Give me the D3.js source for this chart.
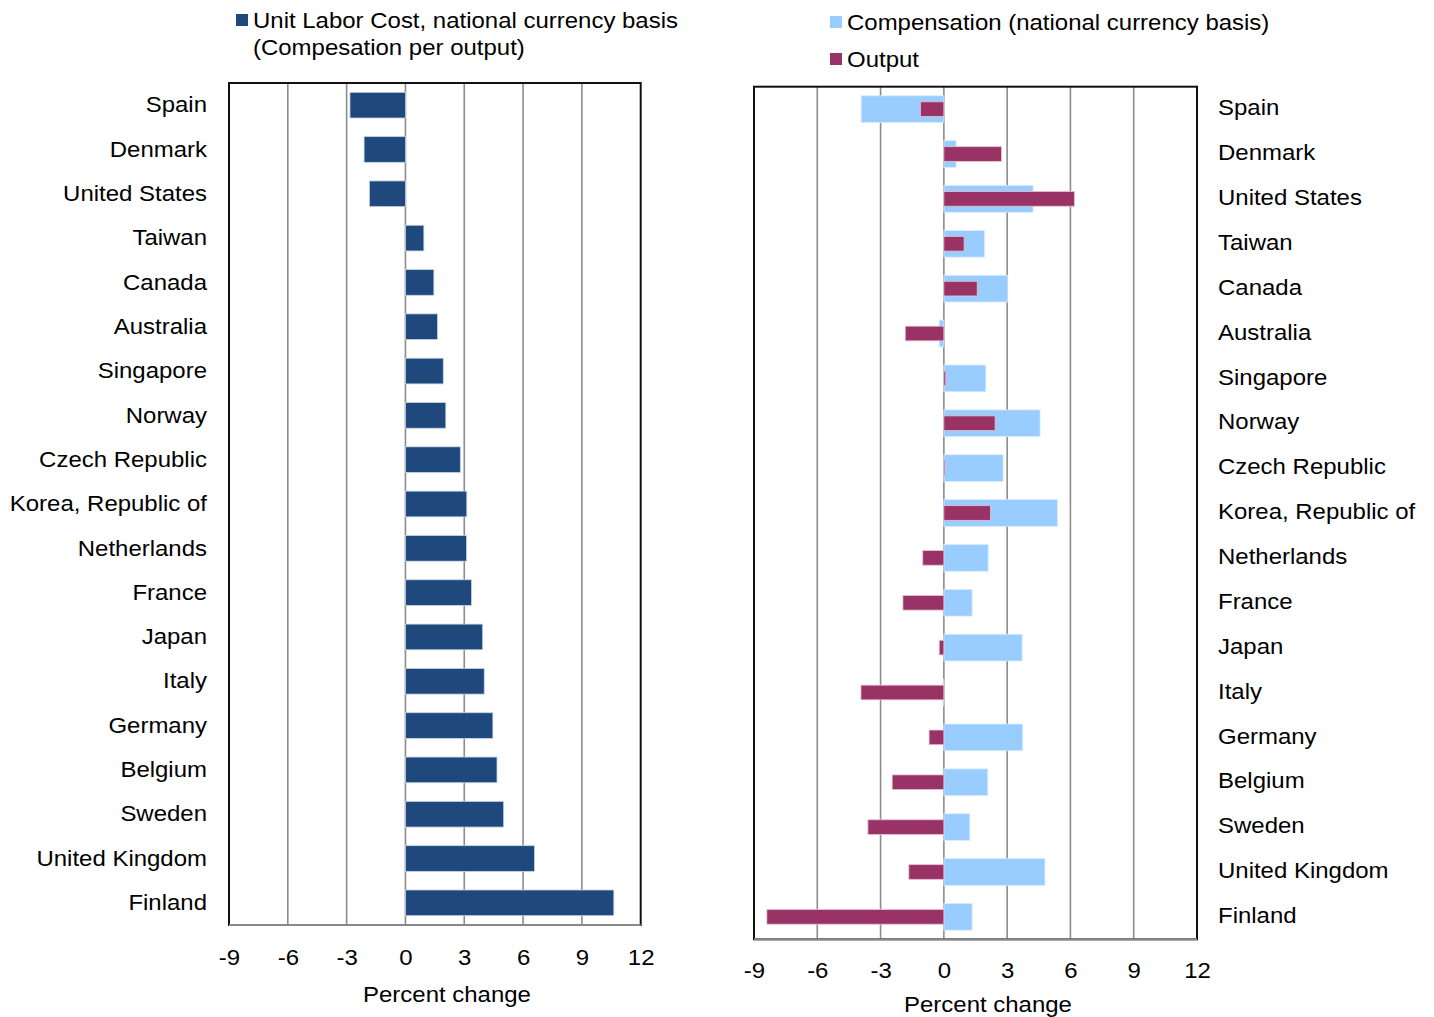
<!DOCTYPE html>
<html>
<head>
<meta charset="utf-8">
<script src="https://cdn.jsdelivr.net/npm/d3@7"></script>
<style>
  html, body { margin: 0; padding: 0; background: #fff; }
  svg text { font-family: Arial, "Liberation Sans", sans-serif; fill: #000; }
</style>
</head>
<body>
<svg id="chart" width="1434" height="1017"></svg>
<script>
// Countries, top to bottom
const countries = ["Spain", "Denmark", "United States", "Taiwan", "Canada", "Australia",
  "Singapore", "Norway", "Czech Republic", "Korea, Republic of", "Netherlands", "France",
  "Japan", "Italy", "Germany", "Belgium", "Sweden", "United Kingdom", "Finland"];

// Unit labor cost, percent change
const unitLaborCost = [-2.83, -2.11, -1.84, 0.94, 1.45, 1.64, 1.93, 2.06, 2.80, 3.13, 3.12,
  3.37, 3.94, 4.02, 4.46, 4.67, 5.01, 6.58, 10.63];

// Compensation (national currency basis), percent change
const compensation = [-3.92, 0.58, 4.23, 1.93, 3.03, -0.22, 1.99, 4.56, 2.81, 5.38, 2.10,
  1.34, 3.71, -0.05, 3.74, 2.08, 1.23, 4.79, 1.34];

// Output, percent change
const output = [-1.11, 2.73, 6.19, 0.96, 1.58, -1.83, 0.09, 2.43, 0.05, 2.21, -1.00,
  -1.94, -0.22, -3.93, -0.70, -2.45, -3.60, -1.66, -8.39];

const tickValues = [-9, -6, -3, 0, 3, 6, 9, 12];
const axisTitle = "Percent change";

const colors = { ulc: "#1F497D", comp: "#99CCFF", output: "#993366" };

const FONT = 22;     // px
const STRETCH = 1.09; // horizontal widening of the typeface

const svg = d3.select("#chart");

// text placed at (x, y) and widened horizontally around that point
function label(parent, x, y, str, anchor) {
  return parent.append("text")
    .attr("transform", `translate(${x},${y}) scale(${STRETCH},1)`)
    .attr("dy", "0.35em")
    .attr("text-anchor", anchor || "start")
    .attr("font-size", FONT)
    .text(str);
}

function drawPanel(opts) {
  const { x0, x1, y0, y1 } = opts;
  const x = d3.scaleLinear().domain([-9, 12]).range([x0, x1]);
  const y = d3.scaleBand().domain(countries).range([y0, y1]).paddingInner(opts.pad).paddingOuter(opts.pad / 2);
  const g = svg.append("g");

  // vertical gridlines
  g.selectAll("line.grid").data(tickValues.slice(1, -1)).join("line")
    .attr("x1", d => x(d)).attr("x2", d => x(d))
    .attr("y1", y0).attr("y2", y1)
    .attr("stroke", "#8c8c8c").attr("stroke-width", 1.6);

  opts.drawBars(g, x, y);

  // frame
  g.append("rect").attr("x", x0).attr("y", y0).attr("width", x1 - x0).attr("height", y1 - y0)
    .attr("fill", "none").attr("stroke", "#111").attr("stroke-width", 2);
  g.append("line").attr("x1", x0).attr("x2", x1).attr("y1", y1).attr("y2", y1)
    .attr("stroke", "#888").attr("stroke-width", 2);

  // x axis tick labels (plain hyphen for negatives)
  const axis = d3.axisBottom(x).tickValues(tickValues).tickSize(0).tickPadding(opts.tickPad)
    .tickFormat(d => String(d));
  const ax = g.append("g").attr("transform", `translate(0,${y1})`).call(axis);
  ax.select(".domain").remove();
  ax.selectAll("text")
    .attr("font-size", FONT)
    .attr("font-family", "Arial, 'Liberation Sans', sans-serif")
    .attr("fill", "#000")
    .attr("transform", `scale(${STRETCH},1)`);

  label(g, opts.titleX, opts.titleY, axisTitle, "middle");

  // country labels
  countries.forEach(c => label(g, opts.labelX, y(c) + y.bandwidth() / 2 + opts.labelDy, c, opts.labelAnchor));
  return { x, y };
}

// Left panel: unit labor cost
drawPanel({
  x0: 229, x1: 640.7, y0: 83, y1: 925, pad: 0.42, tickPad: 24, titleX: 447, titleY: 994,
  labelX: 207, labelAnchor: "end", labelDy: -0.5,
  drawBars: (g, x, y) => {
    g.selectAll("rect.ulc").data(countries).join("rect")
      .attr("x", (d, i) => Math.min(x(0), x(unitLaborCost[i])))
      .attr("width", (d, i) => Math.abs(x(unitLaborCost[i]) - x(0)))
      .attr("y", d => y(d)).attr("height", y.bandwidth())
      .attr("fill", colors.ulc).attr("stroke", "#c8d4e6").attr("stroke-width", 0.8);
  }
});

// Right panel: compensation and output
drawPanel({
  x0: 754, x1: 1197, y0: 86.7, y1: 939.3, pad: 0.405, tickPad: 23, titleX: 988, titleY: 1004,
  labelX: 1218, labelAnchor: "start", labelDy: -1.5,
  drawBars: (g, x, y) => {
    g.selectAll("rect.comp").data(countries).join("rect")
      .attr("x", (d, i) => Math.min(x(0), x(compensation[i])))
      .attr("width", (d, i) => Math.abs(x(compensation[i]) - x(0)))
      .attr("y", d => y(d)).attr("height", y.bandwidth())
      .attr("fill", colors.comp).attr("stroke", "#d6ebff").attr("stroke-width", 0.8);
    const h = y.bandwidth() * 0.55;
    g.selectAll("rect.out").data(countries).join("rect")
      .attr("x", (d, i) => Math.min(x(0), x(output[i])))
      .attr("width", (d, i) => Math.abs(x(output[i]) - x(0)))
      .attr("y", d => y(d) + (y.bandwidth() - h) / 2).attr("height", h)
      .attr("fill", colors.output).attr("stroke", "#e6c3d4").attr("stroke-width", 0.8);
  }
});

// Legends
const legend = [
  { x: 236, y: 14, color: colors.ulc, lines: ["Unit Labor Cost, national currency basis", "(Compesation per output)"] },
  { x: 830, y: 16, color: colors.comp, lines: ["Compensation (national currency basis)"] },
  { x: 830, y: 53, color: colors.output, lines: ["Output"] }
];
const lg = svg.append("g");
legend.forEach(item => {
  lg.append("rect").attr("x", item.x).attr("y", item.y).attr("width", 12).attr("height", 12).attr("fill", item.color);
  item.lines.forEach((t, k) => label(lg, item.x + 17, item.y + 6 + k * 27, t, "start"));
});
</script>
</body>
</html>
